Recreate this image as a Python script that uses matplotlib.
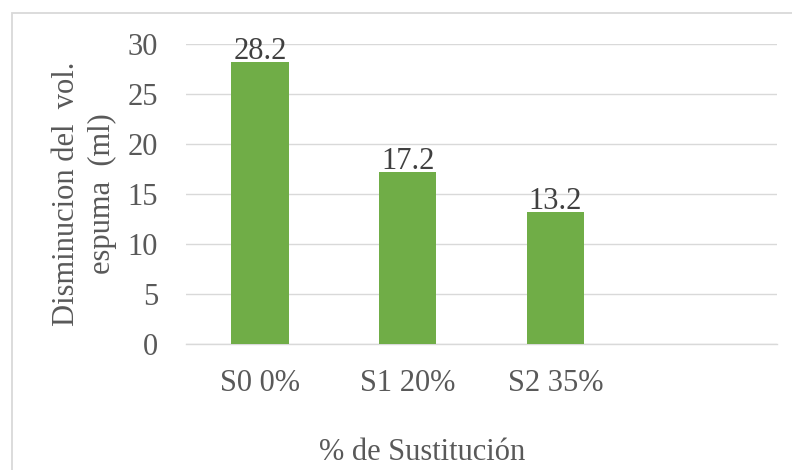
import matplotlib.pyplot as plt
from matplotlib.patches import Rectangle

# data
categorias = ['S0 0%', 'S1 20%', 'S2 35%', '']
disminucion = [28.2, 17.2, 13.2, None]
y_ticks = [0, 5, 10, 15, 20, 25, 30]

W, H = 792, 470
plt.rcParams['font.family'] = ['Liberation Serif', 'DejaVu Serif']

fig = plt.figure(figsize=(W / 100, H / 100), dpi=100)

# outer chart border (cropped on the right and bottom)
fig.patches.append(Rectangle((12 / W, -0.1), 1.2, 1 - 13 / H + 0.1,
                             transform=fig.transFigure, fill=False,
                             edgecolor='#D9D9D9', linewidth=1.3))

ax = fig.add_axes([186 / W, 1 - 344 / H, (777 - 186) / W, 300 / H])

x = list(range(len(categorias)))
vals = [v if v is not None else 0 for v in disminucion]
bars = ax.bar(x, vals, width=0.39, color='#70AD47', zorder=3)

# data labels
for i, v in enumerate(disminucion):
    if v is None:
        continue
    ax.annotate(f'{v}', (x[i], v), xytext=(0, -3), textcoords='offset points',
                ha='center', va='bottom', fontsize=22, color='#404040', zorder=2)

ax.set_xlim(-0.5, 3.5)
ax.set_ylim(0, 30)
ax.set_yticks(y_ticks)
ax.set_xticks(x)
ax.set_xticklabels(categorias)
ax.tick_params(axis='both', length=0, labelsize=22, labelcolor='#595959')
ax.tick_params(axis='x', pad=18)
ax.tick_params(axis='y', pad=20)

ax.grid(axis='y', color='#D9D9D9', linewidth=1.0, zorder=0)
for s in ['top', 'right', 'left']:
    ax.spines[s].set_visible(False)
ax.spines['bottom'].set_color('#D9D9D9')
ax.spines['bottom'].set_linewidth(1.0)

ax.set_ylabel('Disminucion del  vol.\nespuma  (ml)', fontsize=22,
              color='#595959', linespacing=1.3, labelpad=8)
fig.text(422 / W, 1 - 452 / H, '% de Sustitución', fontsize=22,
         color='#595959', ha='center', va='center')

fig.savefig('out.png', dpi=100)
